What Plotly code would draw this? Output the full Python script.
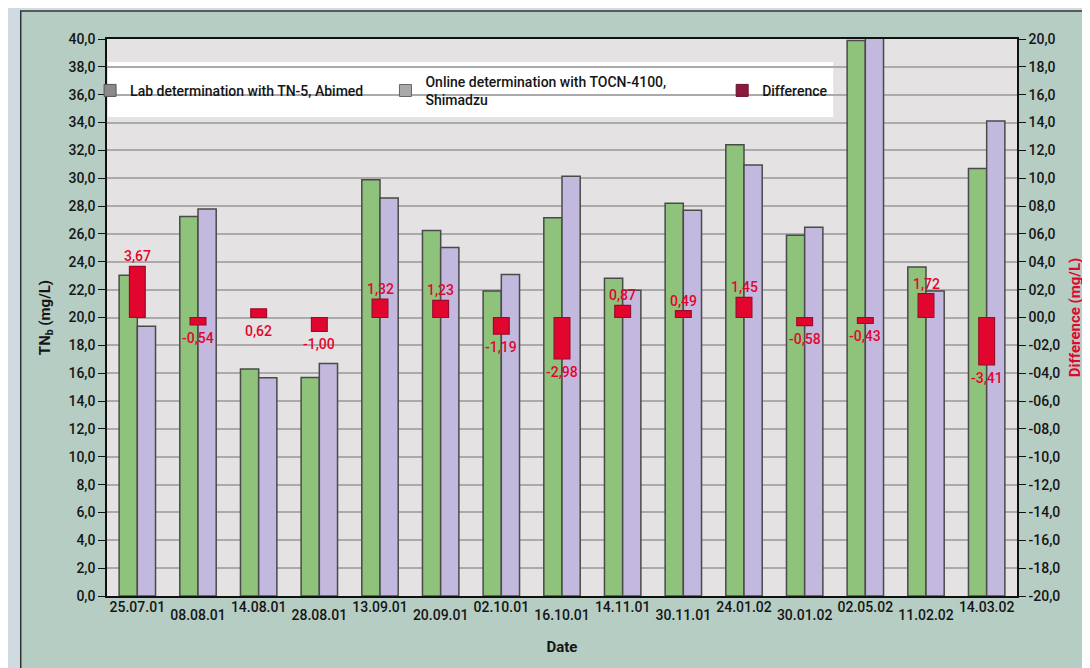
import plotly.graph_objects as go

# ---------------- data ----------------
dates = ["25.07.01", "08.08.01", "14.08.01", "28.08.01", "13.09.01", "20.09.01",
         "02.10.01", "16.10.01", "14.11.01", "30.11.01", "24.01.02", "30.01.02",
         "02.05.02", "11.02.02", "14.03.02"]
lab_tn5 = [23.04, 27.25, 16.30, 15.70, 29.90, 26.25, 21.90, 27.17, 22.82, 28.20,
           32.40, 25.90, 39.90, 23.62, 30.70]
online_tocn = [19.37, 27.79, 15.68, 16.70, 28.58, 25.02, 23.09, 30.15, 21.95, 27.71,
               30.95, 26.48, 40.33, 21.90, 34.11]
difference = [3.67, -0.54, 0.62, -1.00, 1.32, 1.23, -1.19, -2.98, 0.87, 0.49,
              1.45, -0.58, -0.43, 1.72, -3.41]
diff_label_side = ["above", "below", "below", "below", "above", "above", "below", "below",
                   "above", "above", "above", "below", "below", "above", "below"]

left_tickvals = [0, 2, 4, 6, 8, 10, 12, 14, 16, 18, 20, 22, 24, 26, 28, 30, 32, 34, 36, 38, 40]
left_ticktext = ["0,0", "2,0", "4,0", "6,0", "8,0", "10,0", "12,0", "14,0", "16,0", "18,0",
                 "20,0", "22,0", "24,0", "26,0", "28,0", "30,0", "32,0", "34,0", "36,0",
                 "38,0", "40,0"]
right_tickvals = [-20, -18, -16, -14, -12, -10, -8, -6, -4, -2, 0, 2, 4, 6, 8, 10, 12, 14, 16, 18, 20]
right_ticktext = ["-20,0", "-18,0", "-16,0", "-14,0", "-12,0", "-10,0", "-08,0", "-06,0",
                  "-04,0", "-02,0", "00,0", "02,0", "04,0", "06,0", "08,0", "10,0", "12,0",
                  "14,0", "16,0", "18,0", "20,0"]

name_lab = "Lab determination with TN-5, Abimed"
name_online = "Online determination with TOCN-4100,<br>Shimadzu"
name_diff = "Difference"

# ---------------- styles ----------------
FONT = "Roboto, 'DejaVu Sans', sans-serif"
GREEN = "#8fc27b"
PURPLE = "#c3b9de"
RED = "#e2062f"
EDGE = "#4a4a4a"

xs = list(range(len(dates)))

fig = go.Figure()

fig.add_trace(go.Bar(x=xs, y=lab_tn5, name=name_lab, marker=dict(color=GREEN, line=dict(color=EDGE, width=1.5)),
                     showlegend=False))
fig.add_trace(go.Bar(x=xs, y=online_tocn, name=name_online, marker=dict(color=PURPLE, line=dict(color=EDGE, width=1.5)),
                     showlegend=False))
fig.add_trace(go.Bar(x=xs, y=difference, name=name_diff, yaxis="y2", width=0.26,
                     marker=dict(color=RED, line=dict(color="#9a0a2a", width=1.2)),
                     showlegend=False))

# legend-only entries (grey keys as in the original), kept on a separate overlay axis
fig.add_trace(go.Bar(x=[None], y=[None], name=name_lab, legend="legend", xaxis="x3",
                     marker=dict(color="#8a8a8a", line=dict(color="#555555", width=1))))
fig.add_trace(go.Bar(x=[None], y=[None], name=name_online, legend="legend2", xaxis="x3",
                     marker=dict(color="#a9a9a9", line=dict(color="#666666", width=1))))
fig.add_trace(go.Bar(x=[None], y=[None], name=name_diff, legend="legend3", xaxis="x3",
                     marker=dict(color="#8c1a3c", line=dict(color="#6a1030", width=1))))

# difference labels
for i, v in enumerate(difference):
    txt = f"{v:.2f}".replace(".", ",")
    if diff_label_side[i] == "above":
        fig.add_annotation(x=i, y=max(v, 0), xref="x", yref="y2", text=txt, showarrow=False,
                           yanchor="bottom", yshift=0, font=dict(family=FONT, size=14, color=RED, weight=500))
    else:
        fig.add_annotation(x=i, y=min(v, 0), xref="x", yref="y2", text=txt, showarrow=False,
                           yanchor="top", yshift=-3, font=dict(family=FONT, size=14, color=RED, weight=500))

# panel, plot background and legend box
fig.add_shape(type="rect", xref="paper", yref="paper", x0=-0.0948, x1=1.2, y0=-0.3, y1=1.0504,
              fillcolor="#b6cdc4", line=dict(color="#333333", width=1.5), layer="below")
fig.add_shape(type="rect", xref="paper", yref="paper", x0=0, x1=1, y0=0, y1=1,
              fillcolor="#e4e2e2", line=dict(width=0), layer="below")
fig.add_shape(type="rect", xref="paper", yref="paper", x0=0.001, x1=0.798, y0=0.860, y1=0.9587,
              fillcolor="#ffffff", line=dict(width=0), layer="between")

tickfont = dict(family=FONT, size=14, color="#151515", weight=500)
legfont = dict(family=FONT, size=14, color="#151515", weight=500)

# the page places the figure 8 px from the top-left corner of the window
fig.update_layout(
    width=1082, height=660,
    margin=dict(l=99, r=73, t=31, b=72),
    paper_bgcolor="#cfdbe0",
    plot_bgcolor="rgba(0,0,0,0)",
    barmode="group",
    bargap=0.4,
    bargroupgap=0.0,
    font=dict(family=FONT, color="#151515"),
    xaxis=dict(range=[-0.5, len(dates) - 0.5], tickvals=xs[0::2], ticktext=dates[0::2],
               showgrid=False, zeroline=False, showline=True, linecolor="#111111", linewidth=1.5,
               mirror=True, ticks="", tickfont=tickfont, ticklabelstandoff=-3, automargin=False,
               title=dict(text="Date", font=dict(family=FONT, size=15, color="#151515", weight="bold"),
                          standoff=28)),
    xaxis3=dict(range=[-0.5, len(dates) - 0.5], overlaying="x", anchor="y", side="bottom",
                tickvals=xs[1::2], ticktext=dates[1::2], showgrid=False, zeroline=False,
                showline=False, ticks="", tickfont=tickfont, ticklabelstandoff=9, automargin=False),
    yaxis=dict(range=[0, 40], tickvals=left_tickvals, ticktext=left_ticktext, tickfont=tickfont,
               showgrid=True, gridcolor="#aaaaaa", gridwidth=1.5, zeroline=False,
               showline=True, linecolor="#111111", linewidth=1.5, ticks="outside", ticklen=7,
               tickcolor="#111111", tickwidth=1.2, automargin=False,
               title=dict(text="TN<sub>b</sub> (mg/L)", font=dict(family=FONT, size=15, color="#151515", weight="bold"),
                          standoff=14)),
    yaxis2=dict(range=[-20, 20], overlaying="y", side="right", tickvals=right_tickvals,
                ticktext=right_ticktext, tickfont=tickfont, showgrid=False, zeroline=False,
                showline=True, linecolor="#111111", linewidth=1.5, ticks="outside", ticklen=7,
                tickcolor="#111111", tickwidth=1.2, automargin=False,
                title=dict(text="Difference (mg/L)", font=dict(family=FONT, size=15, color=RED, weight="bold"),
                           standoff=10)),
    legend=dict(x=-0.0186, y=0.907, xanchor="left", yanchor="middle", bgcolor="rgba(0,0,0,0)",
                font=legfont, itemwidth=30),
    legend2=dict(x=0.306, y=0.907, xanchor="left", yanchor="middle", bgcolor="rgba(0,0,0,0)",
                 font=legfont, itemwidth=30),
    legend3=dict(x=0.676, y=0.907, xanchor="left", yanchor="middle", bgcolor="rgba(0,0,0,0)",
                 font=legfont, itemwidth=30),
)

fig.write_html("out.html")
